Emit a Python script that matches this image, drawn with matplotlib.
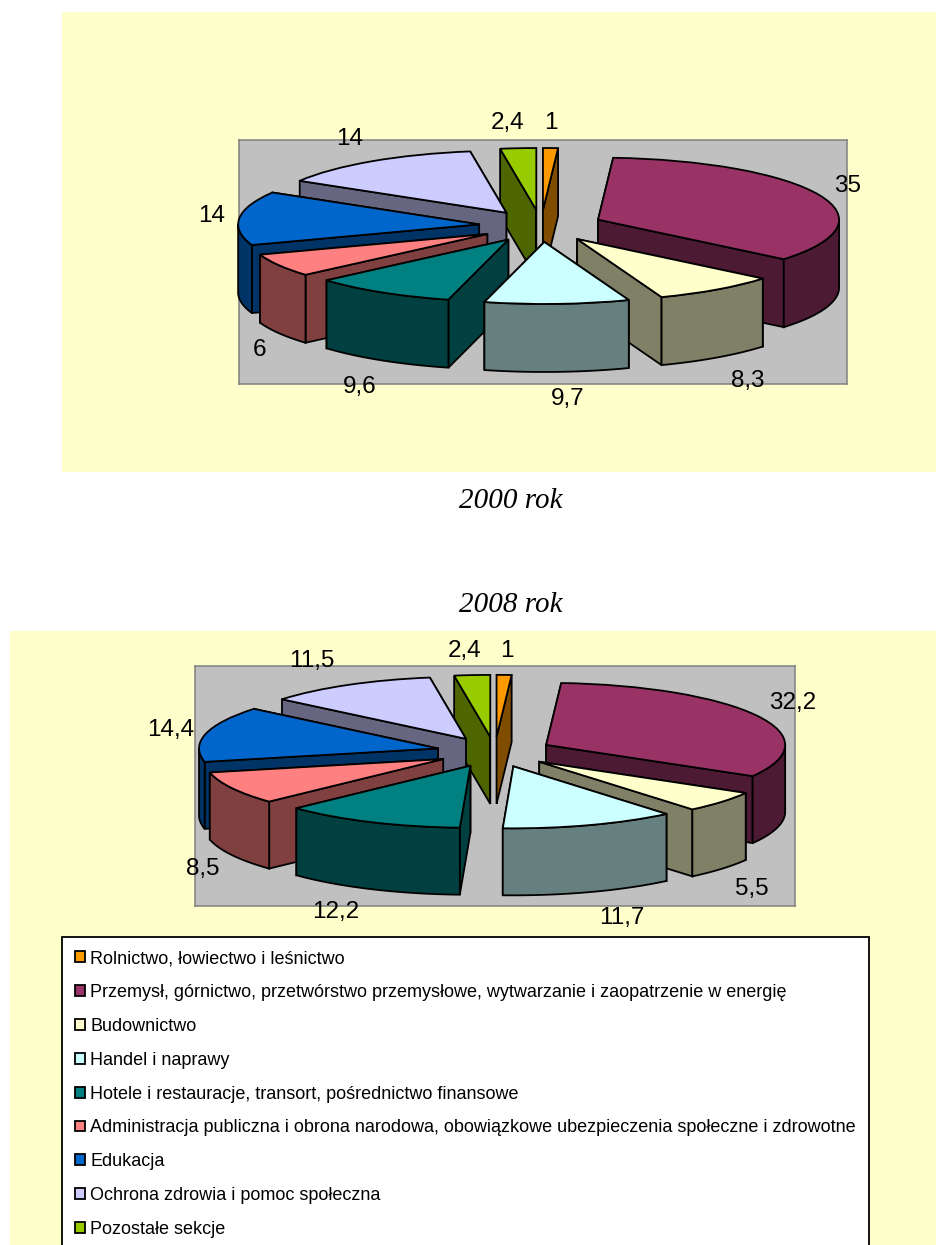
import numpy as np
import matplotlib
matplotlib.use('Agg')
import matplotlib.pyplot as plt
from matplotlib.patches import Rectangle

plt.rcParams['font.family'] = ['Liberation Sans', 'DejaVu Sans']

sections = ['Rolnictwo, łowiectwo i leśnictwo',
            'Przemysł, górnictwo, przetwórstwo przemysłowe, wytwarzanie i zaopatrzenie w energię',
            'Budownictwo',
            'Handel i naprawy',
            'Hotele i restauracje, transort, pośrednictwo finansowe',
            'Administracja publiczna i obrona narodowa, obowiązkowe ubezpieczenia społeczne i zdrowotne',
            'Edukacja',
            'Ochrona zdrowia i pomoc społeczna',
            'Pozostałe sekcje']
values_2000 = [1, 35, 8.3, 9.7, 9.6, 6, 14, 14, 2.4]
values_2008 = [1, 32.2, 5.5, 11.7, 12.2, 8.5, 14.4, 11.5, 2.4]
colors = ['#FF9900', '#993366', '#FFFFCC', '#CCFFFF', '#008080',
          '#FF8080', '#0066CC', '#CCCCFF', '#99CC00']

W, H = 936, 1245
YELLOW = '#FFFFCC'
LW = 1.3


def px_rect(x0, y0, x1, y1):
    return [x0 / W, 1 - y1 / H, (x1 - x0) / W, (y1 - y0) / H]


def dark(c):
    return tuple(0.5 * v for v in matplotlib.colors.to_rgb(c))


def side(ax, xs, ys, color, z):
    ax.fill(xs, ys, facecolor=color, edgecolor='black', lw=LW, zorder=z,
            clip_on=False, joinstyle='miter')


def pie3d(box, cx, cy, rx, ry, explode, depth, values):
    # axes = grey plot area, unit circle squashed to rx,ry pixels
    ax = fig.add_axes(px_rect(*box))
    wedges, _ = ax.pie(values, explode=[explode] * len(values), colors=colors,
                       startangle=90, counterclock=False, radius=1,
                       wedgeprops=dict(edgecolor='black', lw=LW))
    ax.set_aspect('auto')
    ax.set_xlim((box[0] - cx) / rx, (box[2] - cx) / rx)
    ax.set_ylim((cy - box[3]) / ry, (cy - box[1]) / ry)
    ax.set_frame_on(True)
    ax.set_facecolor('#C0C0C0')
    for s in ax.spines.values():
        s.set_color('#808080')
        s.set_linewidth(1.1)
    d = depth / ry
    fr = np.cumsum([0] + list(values)) / sum(values) * 2 * np.pi
    for i, w in enumerate(wedges):
        a1, a2 = fr[i], fr[i + 1]
        mid = (a1 + a2) / 2
        ox, oy = explode * np.sin(mid), explode * np.cos(mid)
        z = 5 + 3 * (1 - np.cos(mid))  # back slices first
        w.set_zorder(z + 0.2)
        w.set_clip_on(False)
        for a, front in ((a1, np.sin(a1) < 0), (a2, np.sin(a2) > 0)):
            ex, ey = ox + np.sin(a), oy + np.cos(a)
            side(ax, [ox, ex, ex, ox], [oy, ey, ey - d, oy - d], dark(colors[i]),
                 z + (0.1 if front else 0))
        lo, hi = max(a1, np.pi / 2), min(a2, 3 * np.pi / 2)
        if hi > lo:
            t = np.linspace(lo, hi, 60)
            rim_x = ox + np.sin(t)
            rim_y = oy + np.cos(t)
            side(ax, np.r_[rim_x, rim_x[::-1]], np.r_[rim_y, rim_y[::-1] - d],
                 dark(colors[i]), z + 0.15)
    return wedges


def labels(values, spots):
    for v, (x, y) in zip(values, spots):
        fig.text(x / W, 1 - y / H, str(v).replace('.', ','), fontsize=17.5,
                 ha='center', va='center', color='black')


fig = plt.figure(figsize=(W / 100, H / 100), dpi=100, facecolor='white')
fig.add_artist(Rectangle((62 / W, 1 - 472 / H), 1, 460 / H, transform=fig.transFigure,
                         facecolor=YELLOW, edgecolor='none', zorder=-1))
fig.add_artist(Rectangle((10 / W, 0), 1, 1 - 631 / H, transform=fig.transFigure,
                         facecolor=YELLOW, edgecolor='none', zorder=-1))

wedges = pie3d((239, 140, 847, 384), 541, 226, 241, 62, 0.258, 68, values_2000)
pie3d((195, 666, 795, 906), 494.7, 752, 239, 62, 0.244, 67, values_2008)

labels(values_2000, [(551, 123), (848, 186), (748, 381), (568, 399), (360, 387),
                     (260, 350), (212, 216), (350, 139), (508, 123)])
labels(values_2008, [(507, 651), (793, 703), (752, 889), (622, 918), (336, 912),
                     (203, 869), (171, 730), (312, 661), (465, 651)])

for txt, y in (('2000 rok', 501), ('2008 rok', 605)):
    fig.text(511 / W, 1 - y / H, txt, fontsize=21, style='italic', ha='center',
             va='center', family='Liberation Serif')

leg = fig.legend(wedges, sections, loc='upper left',
                 bbox_to_anchor=(62 / W, 1 - 937 / H), bbox_transform=fig.transFigure,
                 fontsize=13, frameon=True, fancybox=False, framealpha=1,
                 edgecolor='black', facecolor='white', borderaxespad=0,
                 handlelength=0.55, handleheight=0.55, handletextpad=0.3,
                 labelspacing=0.935, borderpad=0.72)
leg.get_frame().set_linewidth(1.3)

fig.savefig('out.png', dpi=100)
